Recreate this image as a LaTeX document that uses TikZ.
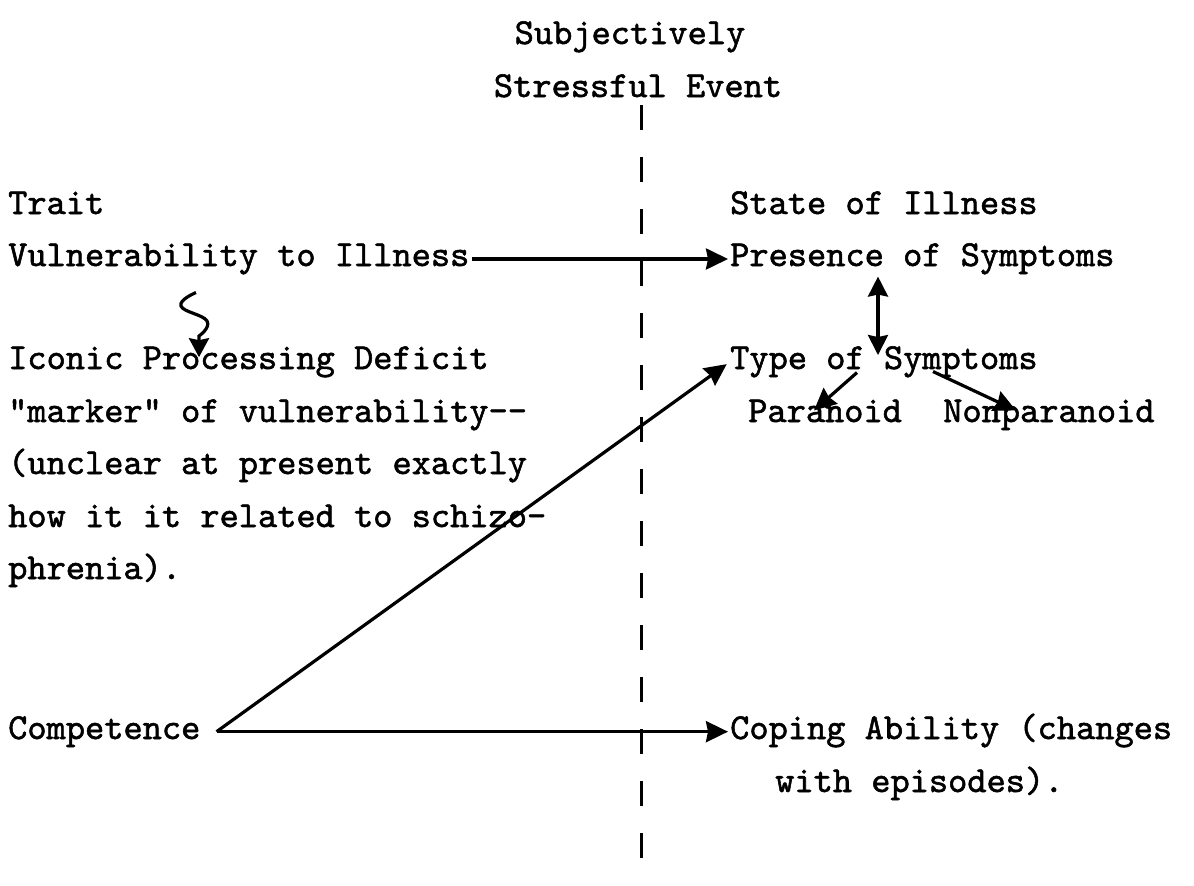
\documentclass[tikz,border=0pt]{standalone}
\usepackage{fontspec}
\usepackage{tikz}
\usetikzlibrary{arrows.meta}
\newfontfamily\typew[FakeBold=1.5]{lmmono10-regular.otf}
\tikzset{
  lbl/.style     = {inner sep=0pt,anchor=base west,font=\typew\fontsize{36.6}{40}\selectfont},
  flowarr/.style = {-{Stealth[length=22pt,width=21pt,inset=2pt]},line width=3.2pt},
  botharr/.style = {{Stealth[length=20pt,width=20pt,inset=2pt]}-{Stealth[length=20pt,width=20pt,inset=2pt]},line width=3.2pt},
  wavyarr/.style = {-{Stealth[length=19pt,width=20pt,inset=2pt]},line width=3.2pt},
  cutline/.style = {line width=3pt,dash pattern=on 25pt off 27pt}
}

\begin{document}
\begin{tikzpicture}[x=1pt,y=-1pt]
  \useasboundingbox (0,0) rectangle (1194,886);
  % event at the top
  \node[lbl,anchor=base] (subj)   at (630,44) {Subjectively};
  \node[lbl,anchor=base] (stress) at (638,97) {Stressful Event};
  \coordinate (cuttop) at (641,105);
  \coordinate (cutbot) at (641,870);
  \draw[cutline] (cuttop) -- (cutbot);
  % left column
  \node[lbl] (trait)  at (8,214) {Trait};
  \node[lbl] (vul)    at (8,266) {Vulnerability to Illness};
  \node[lbl] (iconic) at (8,369) {Iconic Processing Deficit};
  \node[lbl] (mark)   at (8,422) {"marker" of vulnerability--};
  \node[lbl] (uncl)   at (8,474) {(unclear at present exactly};
  \node[lbl] (how)    at (8,527) {how it it related to schizo-};
  \node[lbl] (phren)  at (8,579) {phrenia).};
  \node[lbl] (comp)   at (8,739) {Competence};
  \coordinate (compv) at ([xshift=16pt]comp.east);
  % right column
  \node[lbl] (state)   at (730,214) {State of Illness};
  \node[lbl] (pres)    at (730,266) {Presence of Symptoms};
  \node[lbl] (type)    at (730,369) {Type of Symptoms};
  \node[lbl] (para)    at (748,422) {Paranoid};
  \node[lbl] (nonpara) at (943,422) {Nonparanoid};
  \node[lbl] (coping)  at (730,739) {Coping Ability (changes};
  \node[lbl] (epis)    at (775,792) {with episodes).};
  % connectors
  \draw[flowarr,shorten <=2pt,shorten >=2pt] (vul.east) -- (vul.east -| pres.west);
  \draw[wavyarr] plot[smooth,tension=0.8] coordinates {([xshift=188pt,yshift=-18pt]vul.south west) (181,306) (207,321) (199,336)} -- ([xshift=191pt,yshift=-11pt]iconic.north west);
  \draw[botharr] ([xshift=148pt,yshift=-2pt]pres.south west) -- ([xshift=148pt,yshift=-9pt]type.north west);
  \draw[flowarr] ([xshift=127pt,yshift=5pt]type.south west) -- ([xshift=66pt,yshift=-11pt]para.north west);
  \draw[flowarr] ([xshift=203pt,yshift=6pt]type.south west) -- ([xshift=73pt,yshift=-11pt]nonpara.north west);
  \draw[flowarr,shorten >=4pt] (compv) -- (type.west);
  \draw[flowarr,shorten >=2pt] (compv) -- (compv -| coping.west);
\end{tikzpicture}
\end{document}
